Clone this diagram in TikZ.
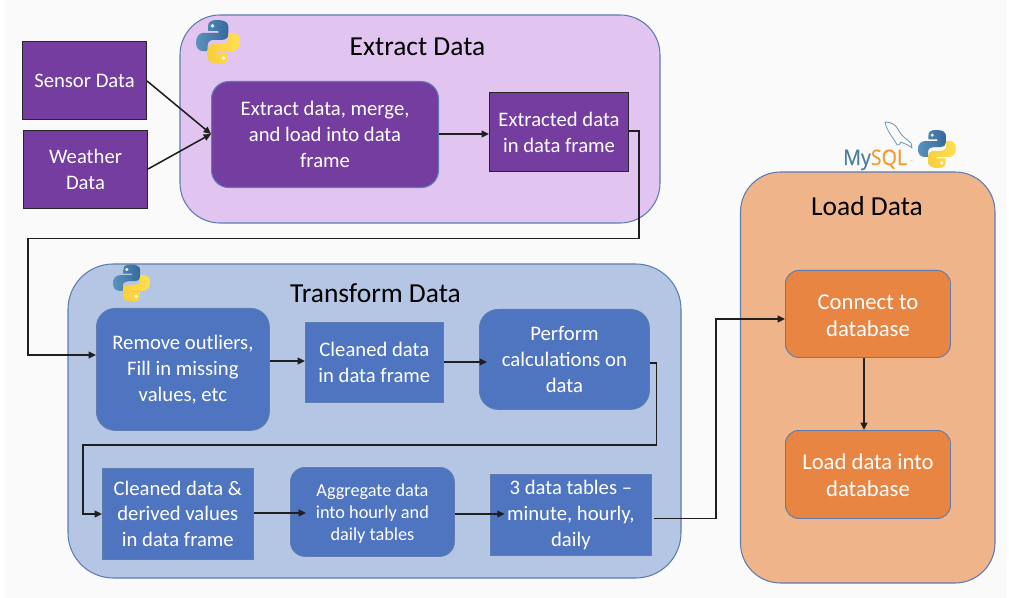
\documentclass[tikz,border=0pt]{standalone}
\usepackage{fontspec}
\setmainfont{Carlito}
\newfontfamily\logofont[FakeBold=0.4,FakeStretch=0.92]{Open Sans}
\usetikzlibrary{arrows.meta,calc}
\definecolor{pagebg}{HTML}{FAFAFA}
\definecolor{edgeblue}{HTML}{5F7CAE}
\definecolor{purplepanel}{HTML}{E1C5F0}
\definecolor{purplebox}{HTML}{763DA0}
\definecolor{bluepanel}{HTML}{B5C6E4}
\definecolor{bluebox}{HTML}{4F75C1}
\definecolor{orangepanel}{HTML}{F0B48A}
\definecolor{orangebox}{HTML}{E88543}
\definecolor{pyblue}{HTML}{3F7FB2}
\definecolor{pyblueb}{HTML}{35699B}
\definecolor{pyyellow}{HTML}{FFE052}
\definecolor{pyyellowb}{HTML}{F7CE3E}
\definecolor{mysqlblue}{HTML}{4A7E9F}
\definecolor{mysqlorange}{HTML}{F29A2E}
\tikzset{
  x=0.75pt,y=-0.75pt,
  panel/.style={draw=edgeblue,line width=0.8pt,inner sep=0pt},
  boxbase/.style={anchor=north west,inner sep=0pt,align=center,text=white,font=\fontsize{15.5}{19.4}\selectfont},
  purplerect/.style={boxbase,fill=purplebox,draw=black!85,line width=0.8pt},
  purpleround/.style={boxbase,fill=purplebox,draw=edgeblue,line width=0.8pt,rounded corners=13pt},
  bluerect/.style={boxbase,fill=bluebox,draw=edgeblue,line width=0.5pt},
  blueround/.style={boxbase,fill=bluebox,draw=edgeblue,line width=0.6pt,rounded corners=14pt},
  orangeround/.style={boxbase,fill=orangebox,draw=edgeblue,line width=0.7pt,rounded corners=10pt,font=\fontsize{17}{20.3}\selectfont},
  paneltitle/.style={text=black,font=\fontsize{20.6}{24}\selectfont,inner sep=0pt},
  conn/.style={draw=black!88,line width=1.15pt,-{Triangle[length=5.5pt,width=5pt]}},
}
\newcommand{\pyhalf}{%
  (-0.02,-1) .. controls (-0.42,-1) and (-0.45,-0.85) .. (-0.45,-0.7) -- (-0.45,-0.5) -- (0.02,-0.5) -- (0.02,-0.42) -- (-0.62,-0.42)
  .. controls (-0.85,-0.42) and (-1,-0.25) .. (-1,0.02) .. controls (-1,0.3) and (-0.85,0.42) .. (-0.65,0.42) -- (-0.47,0.42) -- (-0.47,0.15)
  .. controls (-0.47,-0.05) and (-0.3,-0.1) .. (-0.15,-0.1) -- (0.2,-0.1) .. controls (0.35,-0.1) and (0.47,-0.2) .. (0.47,-0.35) -- (0.47,-0.7)
  .. controls (0.47,-0.88) and (0.3,-1) .. (-0.02,-1) -- cycle}
\newcommand{\pylogo}[3]{%
  \begin{scope}[shift={(#1,#2)},x=#3*0.75pt,y=-#3*0.75pt]
    \shade[left color=pyblue!85!white,right color=pyblueb] \pyhalf;
    \fill[white!85!pyblue] (-0.25,-0.73) circle[radius=0.09];
    \begin{scope}[rotate=180]
      \shade[left color=pyyellowb,right color=pyyellow] \pyhalf;
      \fill[white!85!pyyellow] (-0.25,-0.73) circle[radius=0.09];
    \end{scope}
  \end{scope}}
\begin{document}
\begin{tikzpicture}
\useasboundingbox (0,0) rectangle (1009,598);
\fill[white] (0,0) rectangle (1009,598);
\fill[pagebg] (5,0) rectangle (1007,598);

% panels
\draw[panel,fill=purplepanel,rounded corners=30pt] (180,15) rectangle (660,223);
\draw[panel,fill=bluepanel,rounded corners=34pt] (68,264) rectangle (681,578);
\draw[panel,fill=orangepanel,rounded corners=30pt] (740.5,172) rectangle (995,583);

\node[paneltitle] (tExtract) at (417.5,47) {Extract Data};
\node[paneltitle] (tTransform) at (375.5,293) {Transform Data};
\node[paneltitle] (tLoad) at (867,206) {Load Data};

% logos
\pylogo{218}{42}{22}
\pylogo{131.5}{283}{18.5}
\pylogo{937}{149}{19}

% MySQL logo
\draw[mysqlblue!80!white,line width=0.6pt,line join=round]
  (885,122) .. controls (892,122) and (896,125) .. (899,131)
  .. controls (902,137) and (907,139) .. (911,143) -- (912,148)
  .. controls (908,144) and (904,144) .. (901,142)
  .. controls (899,146) and (897,146) .. (896,143)
  .. controls (893,137) and (887,132) .. (885,122) -- cycle;
\node[anchor=base west,inner sep=0pt,font=\logofont\fontsize{16}{18}\selectfont] (mysql) at (843,165) {\textcolor{mysqlblue}{My}\textcolor{mysqlorange}{SQL}};
\node[anchor=base west,inner sep=0pt,text=mysqlorange,font=\fontsize{3}{3}\selectfont] (tm) at (909.5,163.5) {™};

% boxes
\node[purplerect,minimum width=124pt*0.75,minimum height=78pt*0.75] (sensor) at (22,41) {Sensor Data};
\node[purplerect,minimum width=124pt*0.75,minimum height=78pt*0.75] (weather) at (23,130) {Weather\\Data};
\node[purpleround,minimum width=227pt*0.75,minimum height=106pt*0.75] (extract) at (211,81) {Extract data, merge,\\and load into data\\frame};
\node[purplerect,minimum width=139pt*0.75,minimum height=79pt*0.75] (extracted) at (489,92) {Extracted data\\in data frame};

\node[blueround,minimum width=173pt*0.75,minimum height=122pt*0.75] (remove) at (96,308) {Remove outliers,\\Fill in missing\\values, etc};
\node[bluerect,minimum width=138pt*0.75,minimum height=80pt*0.75] (cleaned) at (305,322) {Cleaned data\\in data frame};
\node[blueround,minimum width=170pt*0.75,minimum height=100pt*0.75] (perform) at (479,309) {Perform\\calculations on\\data};
\node[bluerect,minimum width=151pt*0.75,minimum height=91pt*0.75] (derived) at (102,468) {Cleaned data \&\\derived values\\in data frame};
\node[blueround,rounded corners=11pt,minimum width=164pt*0.75,minimum height=89pt*0.75,font=\fontsize{13.7}{16.5}\selectfont] (aggregate) at (290,467) {\rule{0pt}{12.5pt}Aggregate data\\into hourly and\\daily tables};
\node[bluerect,minimum width=161pt*0.75,minimum height=81pt*0.75] (tables) at (490,474) {3 data tables --\\minute, hourly,\\daily};

\node[orangeround,minimum width=165pt*0.75,minimum height=87pt*0.75] (connect) at (785,270) {\rule{0pt}{14pt}Connect to\\database};
\node[orangeround,minimum width=165pt*0.75,minimum height=88pt*0.75] (loaddb) at (785,430) {\rule{0pt}{13pt}Load data into\\database};

% connectors
\draw[conn] (sensor.east |- 0,81) -- (extract.west |- 0,134);
\draw[conn] (weather.east |- 0,169) -- (extract.west |- 0,134);
\draw[conn] (extract.east |- 0,134) -- (extracted.west |- 0,134);
\draw[conn] (extracted.east |- 0,131) -- (639,131) -- (639,238.5) -- (28,238.5) -- (28,355) -- (remove.west |- 0,355);
\draw[conn] (remove.east |- 0,361) -- (cleaned.west |- 0,361);
\draw[conn,shorten >=-6pt] (cleaned.east |- 0,362) -- (perform.west |- 0,362);
\draw[conn] (perform.east |- 0,363) -- (656.5,363) -- (656.5,445) -- (83,445) -- (83,514) -- (derived.west |- 0,514);
\draw[conn,shorten >=-12pt] (derived.east |- 0,513) -- (aggregate.west |- 0,513);
\draw[conn,shorten >=-11pt] (aggregate.east |- 0,514) -- (tables.west |- 0,514);
\coordinate (tablesout) at (654,518.5);
\draw[conn] (tablesout) -- (716,518.5) -- (716,319) -- (connect.west |- 0,319);
\draw[conn] (connect.south -| 864,0) -- (loaddb.north -| 864,0);
\end{tikzpicture}
\end{document}
